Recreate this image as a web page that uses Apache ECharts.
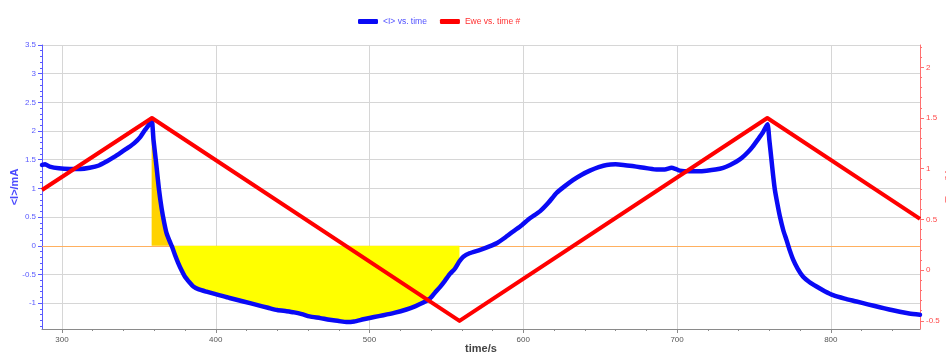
<!DOCTYPE html>
<html>
<head>
<meta charset="utf-8">
<script src="https://cdn.jsdelivr.net/npm/echarts@6/dist/echarts.min.js"></script>
<style>
  html, body { margin: 0; padding: 0; background: #ffffff; }
  #chart { width: 946px; height: 354px; }
</style>
</head>
<body>
<div id="chart"></div>
<script>
// Cyclic voltammetry: current <I> (mA) and potential Ewe (V) against time (s)

// current trace
const timeI = [
  287, 289, 292, 298, 305, 312, 318, 324, 329, 334, 338, 343, 347, 351, 354, 356.5, 358.3,
  359.5, 361.4, 363, 364.8, 366.5, 368, 370, 371.5, 373.5, 375.6, 378, 380, 383, 385.4, 389,
  394, 401, 409, 418, 426.6, 434, 440, 446, 451, 456, 461, 468, 474, 480, 485, 490, 496, 503,
  509, 516, 524, 530, 535, 539.3, 542.5, 545.8, 549, 552.3, 555.5, 558.5, 561, 565, 572, 578,
  583, 588, 593.4, 599, 604.3, 610.8, 616, 621.6, 627, 632.5, 638, 643.3, 649, 654.2, 660, 665,
  671, 676, 681, 686.7, 692, 696.4, 699, 701.8, 708.3, 714, 719.2, 725, 730, 734.5, 738.7, 742,
  746, 749.2, 752.5, 755.7, 758.8, 760, 761.4, 762.5, 763.6, 765.2, 766.9, 769, 771.2, 773.3,
  775.5, 778.5, 782, 786, 790.7, 796, 801.5, 809, 816.7, 824, 831.8, 838, 844.8, 851, 858
];
const currentI = [
  1.41, 1.42, 1.38, 1.35, 1.34, 1.34, 1.36, 1.40, 1.47, 1.55, 1.62, 1.71, 1.79, 1.90, 2.02, 2.11, 2.21,
  1.85, 1.40, 1.00, 0.65, 0.40, 0.22, 0.08, -0.01, -0.16, -0.30, -0.44, -0.54, -0.64, -0.71, -0.76,
  -0.80, -0.85, -0.91, -0.97, -1.03, -1.08, -1.12, -1.14, -1.16, -1.19, -1.23, -1.26, -1.29, -1.31, -1.33, -1.32, -1.28, -1.24,
  -1.21, -1.17, -1.11, -1.05, -0.99, -0.92, -0.82, -0.72, -0.61, -0.49, -0.40, -0.27, -0.19, -0.13, -0.07, -0.01,
  0.05, 0.14, 0.25, 0.36, 0.48, 0.60, 0.74, 0.92, 1.04, 1.15, 1.24, 1.31, 1.37, 1.41, 1.42, 1.41,
  1.39, 1.37, 1.35, 1.33, 1.33, 1.36, 1.34, 1.31, 1.30, 1.30, 1.31, 1.33, 1.36, 1.41, 1.47, 1.53,
  1.63, 1.73, 1.85, 1.97, 2.12, 1.85, 1.50, 1.22, 0.98, 0.74, 0.51, 0.28, 0.10, -0.08,
  -0.24, -0.40, -0.54, -0.63, -0.71, -0.79, -0.86, -0.92, -0.97, -1.02, -1.07, -1.11, -1.15, -1.18, -1.20
];

// potential sweep vertices
const timeE = [287, 358.5, 558.5, 758.7, 858];
const ewe = [0.79, 1.5, -0.5, 1.5, 0.505];

// integrated charge window (s)
const chargeWindow = [358.3, 558.5];

// axis ranges and ticks
const timeRange = [287, 858];
const currentRange = [-1.45, 3.5];
const eweRange = [-0.58, 2.22];
const timeTicks = [300, 400, 500, 600, 700, 800];
const timeMinorTicks = [300, 320, 340, 360, 380, 400, 420, 440, 460, 480, 500, 520, 540, 560, 580,
  600, 620, 640, 660, 680, 700, 720, 740, 760, 780, 800, 820, 840];
const currentTicks = [-1, -0.5, 0, 0.5, 1, 1.5, 2, 2.5, 3, 3.5];
const currentMinorTicks = [-1.4, -1.3, -1.2, -1.1, -1, -0.9, -0.8, -0.7, -0.6, -0.5, -0.4, -0.3, -0.2, -0.1,
  0, 0.1, 0.2, 0.3, 0.4, 0.5, 0.6, 0.7, 0.8, 0.9, 1, 1.1, 1.2, 1.3, 1.4, 1.5, 1.6, 1.7, 1.8, 1.9,
  2, 2.1, 2.2, 2.3, 2.4, 2.5, 2.6, 2.7, 2.8, 2.9, 3, 3.1, 3.2, 3.3, 3.4, 3.5];
const eweTicks = [-0.5, 0, 0.5, 1, 1.5, 2];
const eweMinorTicks = [-0.5, -0.4, -0.3, -0.2, -0.1, 0, 0.1, 0.2, 0.3, 0.4, 0.5, 0.6, 0.7, 0.8, 0.9,
  1, 1.1, 1.2, 1.3, 1.4, 1.5, 1.6, 1.7, 1.8, 1.9, 2, 2.1, 2.2];

const FONT = 'Liberation Sans, Arial, sans-serif';
const BLUE = '#0a0af5';
const RED = '#ff0000';
const CHARGE_POS = '#ffd200';
const CHARGE_NEG = '#ffff00';
const SMOOTH = 0.2;

const currentPoints = timeI.map((t, i) => [t, currentI[i]]);
const ewePoints = timeE.map((t, i) => [t, ewe[i]]);
const chargePoints = currentPoints.filter(p => p[0] >= chargeWindow[0] && p[0] <= chargeWindow[1]);

const chart = echarts.init(document.getElementById('chart'), null, { renderer: 'canvas' });

const minorAxis = (position, range, values, color) => ({
  type: 'value', position: position, min: range[0], max: range[1],
  axisLine: { show: false, onZero: false },
  axisTick: { show: true, customValues: values, length: 2, lineStyle: { color: color } },
  axisLabel: { show: false },
  splitLine: { show: false }
});

chart.setOption({
  animation: false,
  backgroundColor: '#ffffff',
  textStyle: { fontFamily: FONT },
  grid: { left: 42, right: 26, top: 45, bottom: 25, containLabel: false, outerBoundsMode: 'none' },
  legend: {
    left: 358, top: 17, padding: 0, itemWidth: 20, itemHeight: 5, itemGap: 13,
    icon: 'roundRect',
    textStyle: { fontSize: 8.5, fontFamily: FONT },
    data: [
      { name: '<I> vs. time', textStyle: { color: '#5050ff' } },
      { name: 'Ewe vs. time #', textStyle: { color: '#ff3030' } }
    ]
  },
  xAxis: [
    {
      type: 'value', min: timeRange[0], max: timeRange[1], splitNumber: 6,
      name: 'time/s', nameLocation: 'middle', nameGap: 14, nameMoveOverlap: false,
      nameTextStyle: { fontSize: 11, fontWeight: 'bold', color: '#444', fontFamily: FONT },
      axisLine: { show: true, onZero: false, lineStyle: { color: '#8a8a8a', width: 1 } },
      axisTick: { show: true, customValues: timeTicks, length: 4, lineStyle: { color: '#8a8a8a' } },
      axisLabel: { customValues: timeTicks, fontSize: 8, color: '#555', margin: 7, fontFamily: FONT },
      splitLine: { show: true, lineStyle: { color: '#d6d6d6', width: 1 } }
    },
    minorAxis('bottom', timeRange, timeMinorTicks, '#8a8a8a')
  ],
  yAxis: [
    {
      type: 'value', position: 'left', min: currentRange[0], max: currentRange[1], splitNumber: 10,
      name: '<I>/mA', nameLocation: 'middle', nameGap: 22, nameMoveOverlap: false,
      nameTextStyle: { fontSize: 11, fontWeight: 'bold', color: '#4a4aff', fontFamily: FONT },
      axisLine: { show: true, onZero: false, lineStyle: { color: '#5a5aff', width: 1 } },
      axisTick: { show: true, customValues: currentTicks, length: 4, lineStyle: { color: '#5a5aff' } },
      axisLabel: { customValues: currentTicks, fontSize: 8, color: '#5a5aff', margin: 6, fontFamily: FONT },
      splitLine: { show: true, lineStyle: { color: '#d6d6d6', width: 1 } }
    },
    {
      type: 'value', position: 'right', min: eweRange[0], max: eweRange[1], splitNumber: 6,
      name: 'Ewe/V', nameLocation: 'middle', nameGap: 24, nameMoveOverlap: false,
      nameTextStyle: { fontSize: 11, fontWeight: 'bold', color: '#ff8080', fontFamily: FONT },
      axisLine: { show: true, onZero: false, lineStyle: { color: '#ff7070', width: 1 } },
      axisTick: { show: true, customValues: eweTicks, length: 4, lineStyle: { color: '#ff7070' } },
      axisLabel: { customValues: eweTicks, fontSize: 8, color: '#ff4a4a', margin: 6, fontFamily: FONT },
      splitLine: { show: false }
    },
    minorAxis('left', currentRange, currentMinorTicks, '#5a5aff'),
    minorAxis('right', eweRange, eweMinorTicks, '#ff7070')
  ],
  series: [
    {
      name: 'charge',
      type: 'line',
      xAxisIndex: 0, yAxisIndex: 0,
      data: chargePoints,
      symbol: 'none',
      silent: true,
      smooth: SMOOTH,
      lineStyle: { width: 0 },
      areaStyle: { opacity: 1, origin: 0, color: CHARGE_NEG },
      z: 1
    },
    {
      name: '<I> vs. time',
      type: 'line',
      xAxisIndex: 0, yAxisIndex: 0,
      data: currentPoints,
      symbol: 'none',
      smooth: SMOOTH,
      color: BLUE,
      lineStyle: { color: BLUE, width: 4.5, join: 'round', cap: 'round' },
      z: 3,
      markLine: {
        silent: true, symbol: 'none', animation: false,
        label: { show: false },
        lineStyle: { color: '#ffb060', width: 1, type: 'solid' },
        data: [{ yAxis: 0 }],
        z: 1
      }
    },
    {
      name: 'Ewe vs. time #',
      type: 'line',
      xAxisIndex: 0, yAxisIndex: 1,
      data: ewePoints,
      symbol: 'none',
      color: RED,
      lineStyle: { color: RED, width: 4, join: 'round' },
      z: 4
    }
  ]
});

// Anodic charge (above zero) in gold, cathodic charge in yellow:
// a hard colour stop placed at the pixel row of I = 0.
const yTop = chart.convertToPixel({ yAxisIndex: 0 }, currentRange[1]);
const yBottom = chart.convertToPixel({ yAxisIndex: 0 }, currentRange[0]);
const yZero = chart.convertToPixel({ yAxisIndex: 0 }, 0);
const f = (yZero - yTop) / (yBottom - yTop);
chart.setOption({
  series: [{
    name: 'charge',
    areaStyle: {
      color: new echarts.graphic.LinearGradient(0, yTop, 0, yBottom, [
        { offset: 0, color: CHARGE_POS },
        { offset: f, color: CHARGE_POS },
        { offset: f, color: CHARGE_NEG },
        { offset: 1, color: CHARGE_NEG }
      ], true)
    }
  }]
});
</script>
</body>
</html>
